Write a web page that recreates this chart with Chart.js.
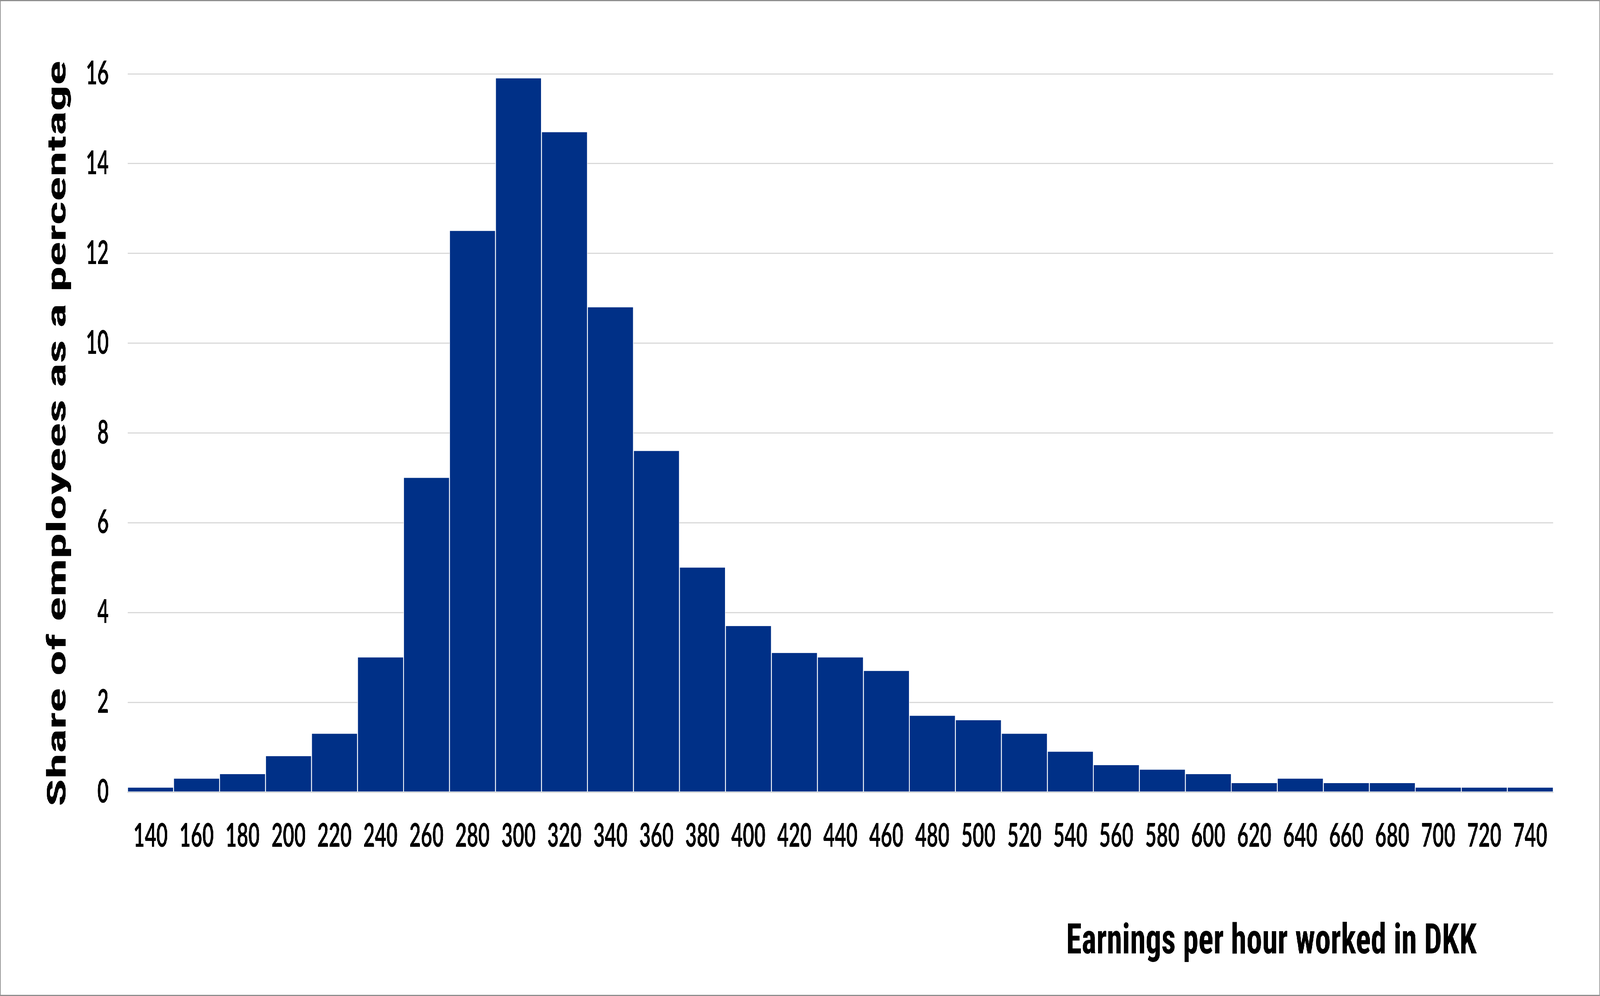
<!DOCTYPE html>
<html>
<head>
<meta charset="utf-8">
<script src="https://cdn.jsdelivr.net/npm/chart.js@4.4.0/dist/chart.umd.min.js"></script>
<style>
  html, body { margin: 0; padding: 0; background: #fff; overflow: hidden; }
  #page { position: absolute; left: 0; top: 0; width: 6810px; height: 2550px; transform-origin: 0 0; }
  #frame { position: absolute; left: 0; top: 0; width: 6810px; height: 2550px; box-sizing: border-box; border: 3px solid #8f8f8f; pointer-events: none; }
  canvas { display: block; }
</style>
</head>
<body>
<div id="page">
  <canvas id="hist" width="6810" height="2550"></canvas>
  <div id="frame"></div>
</div>
<script>
const bins = ["140", "160", "180", "200", "220", "240", "260", "280", "300", "320", "340",
  "360", "380", "400", "420", "440", "460", "480", "500", "520", "540", "560",
  "580", "600", "620", "640", "660", "680", "700", "720", "740"];
const shares = [0.1, 0.3, 0.4, 0.8, 1.3, 3.0, 7.0, 12.5, 15.9, 14.7, 10.8,
  7.6, 5.0, 3.7, 3.1, 3.0, 2.7, 1.7, 1.6, 1.3, 0.9, 0.6,
  0.5, 0.4, 0.2, 0.3, 0.2, 0.2, 0.1, 0.1, 0.1];

const yTitle = "Share of employees as a percentage";
const xTitle = "Earnings per hour worked in DKK";

const tickFont = { family: "Lato", weight: "bold", size: 84 };
const titleFont = "'Roboto Condensed', Roboto, sans-serif";

// the page is drawn at 6810x2550, squeeze it into whatever window we get
const page = document.getElementById("page");
page.style.transform = `scale(${window.innerWidth / 6810}, ${window.innerHeight / 2550})`;

// stretch a title so it covers the same length as in the original
function fittedText(ctx, text, size, length) {
  ctx.font = `bold ${size}px ${titleFont}`;
  const w = ctx.measureText(text).width;
  ctx.scale(length / w, 1);
  ctx.fillText(text, 0, 0);
}

const titlesPlugin = {
  id: "titles",
  afterDraw(chart) {
    const ctx = chart.ctx;
    const area = chart.chartArea;
    ctx.save();
    ctx.fillStyle = "#000";
    ctx.textBaseline = "alphabetic";

    ctx.save();
    ctx.translate(area.right - 326, 2441);
    ctx.textAlign = "right";
    fittedText(ctx, xTitle, 108, 1747);
    ctx.restore();

    ctx.save();
    ctx.translate(279, 1110);
    ctx.rotate(-Math.PI / 2);
    ctx.textAlign = "center";
    fittedText(ctx, yTitle, 111, 1910);
    ctx.restore();

    ctx.restore();
  }
};

const ctx = document.getElementById("hist").getContext("2d");
new Chart(ctx, {
  type: "bar",
  data: {
    labels: bins,
    datasets: [{
      data: shares,
      backgroundColor: "#003087",
      borderColor: "#ffffff",
      borderWidth: { left: 2, right: 2, top: 0, bottom: 0 },
      borderSkipped: false,
      barPercentage: 1,
      categoryPercentage: 1
    }]
  },
  options: {
    responsive: false,
    animation: false,
    devicePixelRatio: 1,
    layout: { padding: { left: 0, top: 189, right: 199, bottom: 0 } },
    plugins: {
      legend: { display: false },
      tooltip: { enabled: false }
    },
    scales: {
      x: {
        grid: { display: false, drawTicks: false },
        border: { display: true, color: "#d9d9d9", width: 3 },
        ticks: { color: "#000", font: tickFont, padding: 63, maxRotation: 0, autoSkip: false },
        afterFit: s => { s.height = 522; }
      },
      y: {
        min: 0,
        max: 16,
        ticks: { stepSize: 2, color: "#000", font: tickFont, padding: 80 },
        grid: { color: "#d9d9d9", lineWidth: 3, drawTicks: false },
        border: { display: false },
        afterFit: s => { s.width = 543; }
      }
    }
  },
  plugins: [titlesPlugin]
});
</script>
</body>
</html>
